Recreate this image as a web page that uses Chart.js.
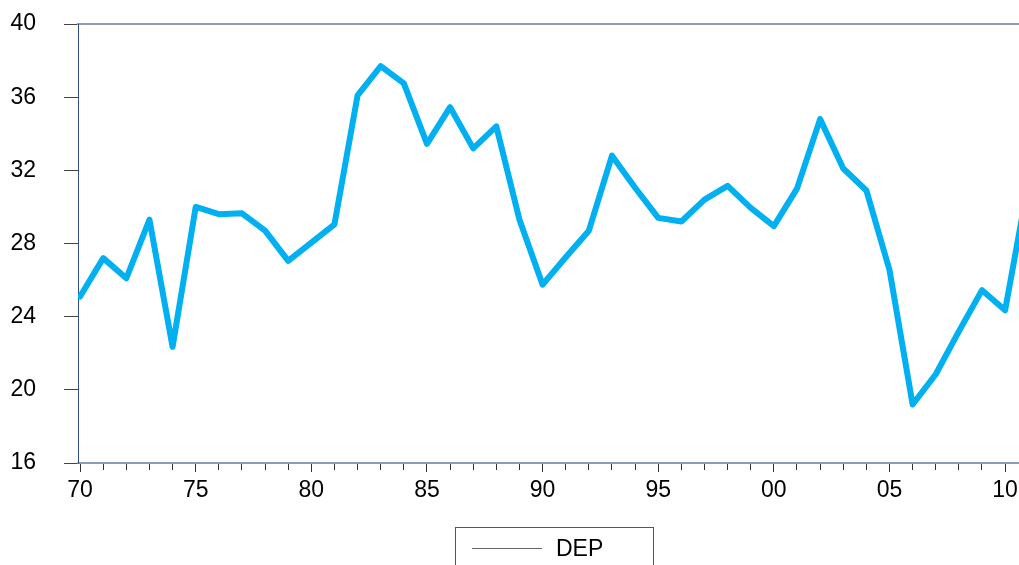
<!DOCTYPE html>
<html><head><meta charset="utf-8">
<script src="https://cdn.jsdelivr.net/npm/chart.js@4.4.1/dist/chart.umd.min.js"></script>
<style>html,body{margin:0;padding:0;background:#fff}#wrap{width:1019px;height:565px}</style>
</head><body><div id="wrap"><canvas id="c" width="1019" height="565"></canvas></div>
<script>
const years = [1970,1971,1972,1973,1974,1975,1976,1977,1978,1979,1980,1981,1982,1983,1984,1985,1986,1987,1988,1989,1990,1991,1992,1993,1994,1995,1996,1997,1998,1999,2000,2001,2002,2003,2004,2005,2006,2007,2008,2009,2010,2011];
const dep = [25.1,27.2,26.1,29.3,22.35,30.0,29.6,29.65,28.7,27.05,28.05,29.05,36.1,37.7,36.75,33.45,35.45,33.2,34.4,29.3,25.75,27.25,28.7,32.8,31.05,29.4,29.2,30.4,31.15,29.95,28.95,31.0,34.8,32.1,30.9,26.55,19.2,20.85,23.2,25.45,24.35,31.3];
const xTickYears = [1970,1971,1972,1973,1974,1975,1976,1977,1978,1979,1980,1981,1982,1983,1984,1985,1986,1987,1988,1989,1990,1991,1992,1993,1994,1995,1996,1997,1998,1999,2000,2001,2002,2003,2004,2005,2006,2007,2008,2009,2010];
const yTickValues = [16,20,24,28,32,36,40];
const seriesLabel = 'DEP';

const FONT = {family: '"Liberation Sans", Arial, Helvetica, sans-serif', size: 23};

const legendFrame = {
  id: 'legendFrame',
  afterDraw(chart) {
    const ctx = chart.ctx;
    const ds = chart.data.datasets[0];
    ctx.save();
    ctx.strokeStyle = '#555';
    ctx.lineWidth = 1;
    ctx.strokeRect(455.5, 527.5, 198, 50);
    ctx.beginPath();
    ctx.moveTo(472, 548.5);
    ctx.lineTo(542, 548.5);
    ctx.strokeStyle = '#666';
    ctx.stroke();
    ctx.fillStyle = '#000';
    ctx.font = '23px "Liberation Sans", Arial, sans-serif';
    ctx.textBaseline = 'middle';
    ctx.textAlign = 'left';
    ctx.fillText(ds.label, 556, 549.5);
    ctx.restore();
  }
};

new Chart(document.getElementById('c'), {
  type: 'line',
  data: {
    datasets: [{
      label: seriesLabel,
      data: years.map((y, i) => ({x: y, y: dep[i]})),
      borderColor: '#00b0f0',
      borderWidth: 6,
      borderJoinStyle: 'round',
      borderCapStyle: 'round',
      pointRadius: 0,
      tension: 0,
      fill: false
    }]
  },
  options: {
    responsive: false,
    animation: false,
    devicePixelRatio: 1,
    layout: {padding: {top: 24, left: 0, right: 0, bottom: 0}},
    plugins: {legend: {display: false}, tooltip: {enabled: false}},
    scales: {
      x: {
        type: 'linear',
        position: 'bottom',
        min: 1969.91,
        max: 2010.6,
        afterBuildTicks: (s) => { s.ticks = xTickYears.map(v => ({value: v})); },
        afterFit: (s) => { s.height = 102; s.paddingLeft = 0; s.paddingRight = 0; },
        ticks: {
          autoSkip: false,
          maxRotation: 0,
          minRotation: 0,
          padding: 5,
          color: '#000',
          font: FONT,
          callback: (v) => (v % 5 === 0 ? String(v % 100).padStart(2, '0') : '')
        },
        grid: {
          drawOnChartArea: false,
          drawTicks: true,
          tickLength: 9,
          tickColor: '#333',
          tickWidth: 1,
          tickBorderDash: (ctx) => (ctx.tick && ctx.tick.value % 5 !== 0 ? [6, 40] : [])
        },
        border: {display: true, color: '#8a9cb8', width: 2}
      },
      xTop: {
        type: 'linear',
        position: 'top',
        min: 1969.91,
        max: 2010.6,
        afterFit: (s) => { s.height = 0; s.paddingLeft = 0; s.paddingRight = 0; },
        ticks: {display: false},
        grid: {display: false, drawTicks: false},
        border: {display: true, color: '#8a9cb8', width: 2}
      },
      y: {
        type: 'linear',
        position: 'left',
        min: 16,
        max: 40,
        afterBuildTicks: (s) => { s.ticks = yTickValues.map(v => ({value: v})); },
        afterFit: (s) => { s.width = 78; s.paddingTop = 0; s.paddingBottom = 0; },
        ticks: {padding: 28, color: '#000', font: FONT},
        grid: {
          drawOnChartArea: false,
          drawTicks: true,
          tickLength: 14,
          tickColor: '#444',
          tickWidth: 1
        },
        border: {display: true, color: '#2f4f85', width: 1}
      }
    }
  },
  plugins: [legendFrame]
});
</script>
</body></html>
